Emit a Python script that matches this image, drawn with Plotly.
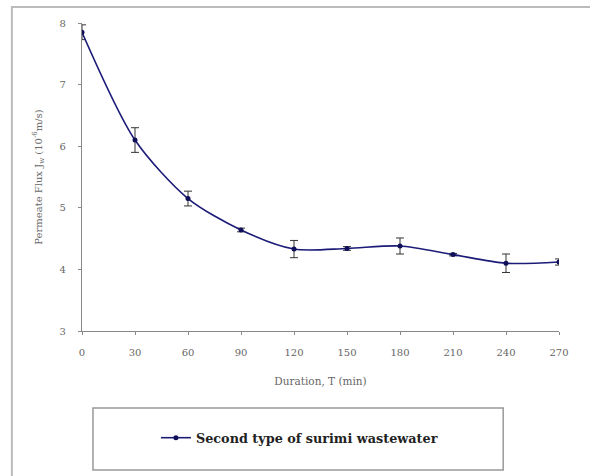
import plotly.graph_objects as go

duration = [0, 30, 60, 90, 120, 150, 180, 210, 240, 270]
flux = [7.85, 6.10, 5.15, 4.64, 4.33, 4.34, 4.38, 4.24, 4.10, 4.12]
flux_err = [0.12, 0.20, 0.12, 0.03, 0.14, 0.03, 0.13, 0.02, 0.15, 0.05]
x_ticks = [0, 30, 60, 90, 120, 150, 180, 210, 240, 270]
y_ticks = [3, 4, 5, 6, 7, 8]
series_name = "Second type of surimi wastewater"

fig = go.Figure()
fig.add_trace(go.Scatter(
    x=duration, y=flux, name=series_name,
    mode="lines+markers",
    line=dict(color="#1c1c78", width=1.6, shape="spline", smoothing=0.8),
    marker=dict(color="#10105a", size=5, symbol="circle"),
    error_y=dict(type="data", array=flux_err, visible=True,
                 color="#333333", thickness=1, width=4),
))

axis_font = dict(family="DejaVu Serif", size=10, color="#666666")
fig.update_layout(
    width=590, height=476,
    margin=dict(l=82, r=31, t=23, b=145),
    paper_bgcolor="white", plot_bgcolor="white",
    showlegend=True,
    legend=dict(x=0.155, y=-0.347, xanchor="left", yanchor="middle",
                bgcolor="rgba(0,0,0,0)", borderwidth=0,
                font=dict(family="DejaVu Serif", size=12.8, color="#222222", weight="bold"),
                itemwidth=30),
    xaxis=dict(range=[0, 270], tickvals=x_ticks, showgrid=False, zeroline=False,
               showline=True, linecolor="#888888", linewidth=1.2,
               ticks="outside", ticklen=3, tickcolor="#888888",
               tickfont=axis_font, ticklabelstandoff=9,
               title=dict(text="Duration, T (min)",
                          font=dict(family="DejaVu Serif", size=10.5, color="#666666"),
                          standoff=20)),
    yaxis=dict(range=[3, 8], tickvals=y_ticks, showgrid=False, zeroline=False,
               showline=True, linecolor="#888888", linewidth=1.2,
               ticks="outside", ticklen=3, tickcolor="#888888",
               tickfont=axis_font, ticklabelstandoff=10,
               title=dict(text="Permeate Flux J<sub>w</sub> (10<sup>-6</sup>m/s)",
                          font=dict(family="DejaVu Serif", size=10, color="#666666"),
                          standoff=15)),
    shapes=[
        dict(type="rect", xref="paper", yref="paper",
             x0=-0.147, x1=1.3, y0=-0.7, y1=1.052,
             line=dict(color="#bbbbbb", width=2), fillcolor="rgba(0,0,0,0)", layer="below"),
        dict(type="rect", xref="paper", yref="paper",
             x0=0.023, x1=0.883, y0=-0.451, y1=-0.25,
             line=dict(color="#999999", width=1.5), fillcolor="rgba(0,0,0,0)"),
    ],
)

fig.write_html("out.html")
